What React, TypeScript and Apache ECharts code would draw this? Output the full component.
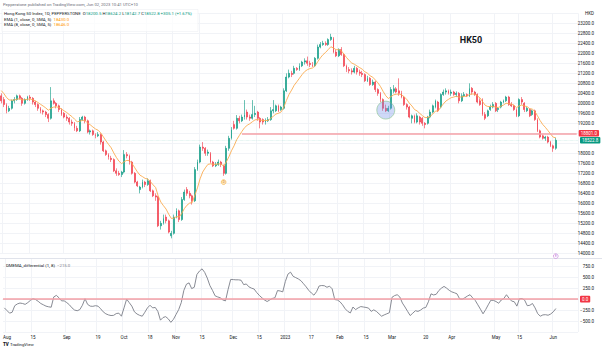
import React, { useEffect, useRef } from 'react';
import * as echarts from 'echarts';

// ---------- categories (trading days, HK holidays removed) ----------
const holidays = ['2022-10-04', '2022-12-26', '2022-12-27', '2023-01-02', '2023-04-05', '2023-04-07', '2023-04-10', '2023-05-01'];
function tradingDays(start: string, end: string): string[] {
  const out: string[] = [];
  const d = new Date(start + 'T00:00:00Z');
  const e = new Date(end + 'T00:00:00Z');
  while (d <= e) {
    const wd = d.getUTCDay();
    const s = d.toISOString().slice(0, 10);
    if (wd !== 0 && wd !== 6 && !holidays.includes(s)) out.push(s);
    d.setUTCDate(d.getUTCDate() + 1);
  }
  return out;
}
const categories = tradingDays('2022-07-29', '2023-06-14');

const timeLabels: Record<string, string> = {
  '2022-08-01': 'Aug', '2022-08-15': '15', '2022-09-01': 'Sep', '2022-09-19': '19',
  '2022-10-03': 'Oct', '2022-10-18': '18', '2022-11-01': 'Nov', '2022-11-15': '15',
  '2022-12-01': 'Dec', '2022-12-15': '15', '2023-01-03': '2023', '2023-01-17': '17',
  '2023-02-01': 'Feb', '2023-02-15': '15', '2023-03-01': 'Mar', '2023-03-20': '20',
  '2023-04-03': 'Apr', '2023-05-02': 'May', '2023-05-15': '15', '2023-06-01': 'Jun',
};

// ---------- OHLC  [open, close, low, high] ----------
const jul22 = [[20300, 20100, 20000, 20400]];
const aug22 = [
  [20150, 19950, 19850, 20250], [19950, 19700, 19600, 20000], [19700, 19800, 19650, 19900], [19800, 20100, 19750, 20150],
  [20100, 20150, 20000, 20250], [20150, 20300, 20100, 20350], [20300, 20200, 20150, 20350], [20200, 20000, 19900, 20250],
  [20000, 20150, 19950, 20200], [20150, 20250, 20100, 20300], [20250, 20200, 20100, 20330], [20200, 20050, 19950, 20250],
  [20050, 19950, 19850, 20100], [19950, 19800, 19700, 20000], [19800, 19700, 19600, 19850], [19700, 19650, 19550, 19750],
  [19650, 19550, 19450, 19700], [19550, 19400, 19250, 19600], [19400, 20100, 19350, 20650], [20100, 20000, 19950, 20200],
  [20000, 19900, 19800, 20050], [19900, 19750, 19650, 19950], [19750, 19550, 19500, 19800],
];
const sep22 = [
  [19600, 19450, 19400, 19650], [19450, 19400, 19300, 19550], [19400, 19250, 19150, 19450], [19250, 19200, 19100, 19350],
  [19200, 19000, 18900, 19250], [19000, 18900, 18850, 19100], [18900, 19350, 18850, 19450], [19350, 19450, 19300, 19500],
  [19450, 19300, 19200, 19500], [19300, 18850, 18800, 19350], [18850, 18900, 18750, 18950], [18900, 18750, 18700, 18950],
  [18750, 18700, 18600, 18800], [18700, 18750, 18650, 18850], [18750, 18450, 18350, 18800], [18450, 18100, 18050, 18500],
  [18100, 17950, 17900, 18150], [17950, 17850, 17750, 18000], [17800, 17750, 17650, 17900], [17750, 17300, 17250, 17800],
  [17300, 17200, 17100, 17400], [17200, 17150, 17100, 17300],
];
const oct22 = [
  [17150, 17250, 17050, 17300], [17250, 17950, 17200, 18130], [17950, 17900, 17800, 18050], [17900, 17650, 17550, 17950],
  [17650, 17200, 17150, 17700], [17200, 16850, 16800, 17250], [16850, 16700, 16650, 16900], [16550, 16650, 16400, 16700],
  [16650, 16850, 16600, 16950], [16850, 16750, 16650, 16900], [16750, 16900, 16700, 17000], [16900, 16500, 16450, 16950],
  [16500, 16300, 16250, 16550], [16300, 16250, 16100, 16400], [16250, 15100, 15050, 16300], [15100, 15200, 14950, 15300],
  [15200, 15400, 15150, 15550], [15450, 15300, 15200, 15550], [15300, 14850, 14800, 15350], [14700, 14800, 14600, 14900],
];
const nov22 = [
  [14800, 15450, 14750, 15550], [15450, 15700, 15400, 15800], [15700, 15350, 15250, 15750], [15350, 16150, 15300, 16250],
  [16150, 16450, 16100, 16550], [16550, 16400, 16300, 16650], [16400, 16300, 16200, 16500], [16300, 16100, 15950, 16350],
  [16100, 17350, 16050, 17450], [17350, 17650, 17300, 17750], [17650, 18250, 17600, 18350], [18250, 18200, 18100, 18450],
  [18200, 18000, 17900, 18250], [18000, 18050, 17900, 18150], [18000, 17650, 17600, 18050], [17650, 17500, 17450, 17700],
  [17500, 17550, 17450, 17650], [17550, 17650, 17500, 17750], [17650, 17550, 17450, 17700], [17500, 17200, 17100, 17550],
  [17200, 18200, 17150, 18300], [18200, 18600, 18100, 18700],
];
const dec22 = [
  [18600, 18950, 18550, 19050], [19150, 19000, 18950, 19300], [19000, 19400, 18950, 19530], [19400, 19300, 19200, 19500],
  [19300, 19450, 19250, 19550], [19450, 19550, 19350, 20130], [19650, 19450, 19350, 19750], [19450, 19400, 19300, 19550],
  [19400, 19550, 19350, 20130], [19550, 19600, 19450, 19900], [19650, 19400, 19300, 19700], [19400, 19250, 19000, 19450],
  [19350, 19250, 19150, 19400], [19250, 19300, 19150, 19400], [19300, 19350, 19250, 19450], [19350, 19700, 19300, 19850],
  [19700, 19750, 19600, 20130], [19700, 19900, 19650, 19950], [19900, 19700, 19650, 19950], [19750, 19850, 19700, 19900],
];
const jan23 = [
  [19800, 20500, 19750, 20600], [20500, 21050, 20450, 21200], [21050, 21200, 21000, 21350], [21200, 21150, 21050, 21300],
  [21200, 21400, 21150, 21500], [21400, 21350, 21300, 21450], [21350, 21500, 21300, 21600], [21500, 21650, 21450, 21700],
  [21650, 21700, 21550, 21800], [21700, 21600, 21500, 21870], [21600, 21550, 21450, 21700], [21550, 21500, 21450, 21650],
  [21500, 21800, 21450, 21850], [21800, 22250, 21750, 22350], [22250, 22350, 22200, 22450], [22350, 22400, 22300, 22500],
  [22400, 22350, 22300, 22480], [22350, 22550, 22300, 22600], [22550, 22650, 22500, 22780], [22600, 22050, 22000, 22650],
  [22050, 21900, 21850, 22150],
];
const feb23 = [
  [21900, 22150, 21850, 22200], [22150, 21950, 21900, 22250], [21950, 21500, 21450, 22000], [21500, 21350, 21250, 21550],
  [21350, 21300, 21200, 21450], [21300, 21250, 21150, 21400], [21250, 21400, 21200, 21500], [21400, 21250, 21150, 21450],
  [21250, 21200, 21100, 21350], [21200, 21150, 21050, 21300], [21150, 20900, 20850, 21200], [20900, 21000, 20850, 21100],
  [21000, 20750, 20700, 21050], [20750, 20850, 20700, 20950], [20850, 20550, 20450, 20900], [20550, 20400, 20300, 20600],
  [20400, 20150, 20050, 20450], [20150, 19800, 19700, 20200], [19800, 19700, 19650, 19950], [19700, 19800, 19650, 19900],
];
const mar23 = [
  [19800, 20550, 19750, 20650], [20480, 20580, 20400, 20730], [20580, 20450, 20400, 20650], [20500, 20400, 20300, 21000],
  [20400, 20250, 20200, 20500], [20250, 19950, 19900, 20300], [19950, 19850, 19750, 20000], [19850, 19450, 19400, 19900],
  [19400, 19500, 19200, 19550], [19500, 19250, 19200, 19550], [19250, 19500, 19200, 19600], [19450, 19250, 19150, 19500],
  [19400, 19200, 19100, 19450], [19200, 19150, 19000, 19250], [19200, 19450, 19150, 19500], [19450, 19650, 19400, 19750],
  [19650, 19900, 19600, 19950], [19850, 20100, 19800, 20150], [20050, 19700, 19650, 20100], [19850, 20350, 19800, 20400],
  [20350, 20450, 20300, 20550], [20450, 20500, 20350, 20600], [20500, 20400, 20350, 20550],
];
const apr23 = [
  [20400, 20450, 20300, 20550], [20450, 20350, 20300, 20500], [20350, 20400, 20250, 20480], [20400, 20100, 20000, 20450],
  [20100, 20300, 20050, 20400], [20300, 20350, 20250, 20450], [20350, 20300, 20250, 20400], [20300, 20600, 20250, 20800],
  [20600, 20450, 20350, 20650], [20450, 20350, 20300, 20500], [20350, 20050, 20000, 20400], [20100, 19950, 19900, 20200],
  [20150, 19550, 19500, 20200], [19550, 19400, 19330, 19650], [19500, 19700, 19450, 19750], [19750, 19850, 19700, 19950],
  [19850, 19950, 19800, 20050],
];
const may23 = [
  [20000, 19700, 19650, 20050], [19750, 19800, 19650, 19850], [19850, 20050, 19800, 20100], [20050, 20100, 20000, 20150],
  [20100, 20250, 20050, 20300], [20250, 19950, 19900, 20300], [19950, 19900, 19850, 20050], [19900, 19750, 19700, 19950],
  [19750, 19500, 19450, 19800], [19500, 20150, 19450, 20200], [20150, 20050, 19950, 20250], [20000, 19750, 19650, 20050],
  [19700, 19800, 19650, 19850], [19750, 19500, 19450, 19800], [19550, 19700, 19500, 19750], [19700, 19350, 19300, 19750],
  [19350, 18900, 18850, 19400], [18900, 18650, 18600, 18950], [18700, 18600, 18550, 18750], [18600, 18650, 18500, 18700],
  [18650, 18450, 18400, 18700], [18450, 18300, 18250, 18500],
];
const jun23 = [[18300, 18200, 18060, 18350], [18200.5, 18522.8, 18142.7, 18624.2]];

// closes before the first visible bar, used to seed the EMA
const warmupCloses = [20600, 20900, 20650, 20600, 20550];

// ---------- DMEMA_differential (1, 8) ----------
const diffJul22 = [-200];
const diffAug22 = [-260, -320, -300, -150, -110, -90, -100, -120, -80, -30, 10, -10, -50, -100, -130, -160, -175, -185, 50, 85, 30, -40, -40];
const diffSep22 = [-80, -130, -200, -250, -265, -240, -140, 10, -120, -160, -165, -150, -160, -220, -290, -335, -360, -375, -370, -330, -320, -390];
const diffOct22 = [-200, 0, -80, -160, -290, -340, -370, -390, -300, -200, -140, -200, -190, -280, -480, -420, -400, -450, -530, -460];
const diffNov22 = [-350, -240, -80, 200, 340, 370, 240, 270, 560, 640, 690, 610, 480, 310, 200, 75, 50, 30, -20, -40, 220, 450];
const diffDec22 = [445, 440, 440, 430, 330, 345, 280, 250, 230, 150, 85, 30, -20, -55, -20, 15, 30, 195, 185, 165];
const diffJan23 = [400, 570, 615, 520, 490, 460, 420, 350, 280, 200, 140, 90, 170, 300, 310, 305, 270, 295, 235, -10, -20];
const diffFeb23 = [-60, -130, -220, -280, -315, -180, -240, -200, -170, -180, -190, -205, -280, -245, -280, -335, -390, -360, -335, -310];
const diffMar23 = [40, 80, 100, 50, -90, -180, -280, -375, -320, -265, -280, -250, -205, -190, -60, 120, 95, 110, 195, 250, 290, 250, 200];
const diffApr23 = [165, 145, 120, 5, 0, 30, 70, 100, 30, -30, -130, -230, -335, -240, -130, -25, -30];
const diffMay23 = [-55, -95, -20, 15, 100, 20, -45, -60, -160, 10, 15, -25, -150, -140, -100, -200, -330, -390, -360, -355, -368, -340];
const diffJun23 = [-290, -215];

const priceTicksShown = [14000, 23200];
const priceTicksCovered = [18800, 18400]; // hidden behind the price-line boxes
const lowerTicksShown = [750, 500, 250, -250, -500];

const UP = '#089981';
const DOWN = '#f23645';
const FONT = 'Roboto, "Noto Sans", sans-serif';

function ema(src: number[], warm: number[], period: number): number[] {
  const k = 2 / (period + 1);
  let e = warm[0];
  for (let j = 1; j < warm.length; j++) e = warm[j] * k + e * (1 - k);
  return src.map((v) => {
    e = v * k + e * (1 - k);
    return Math.round(e * 10) / 10;
  });
}

export default function App() {
  const ref = useRef<HTMLDivElement>(null);
  useEffect(() => {
    document.body.style.margin = '0';
    const chart = echarts.init(ref.current!, undefined, { renderer: 'svg' });
    const candles = [...jul22, ...aug22, ...sep22, ...oct22, ...nov22, ...dec22, ...jan23, ...feb23, ...mar23, ...apr23, ...may23, ...jun23];
    const diff = [...diffJul22, ...diffAug22, ...diffSep22, ...diffOct22, ...diffNov22, ...diffDec22, ...diffJan23, ...diffFeb23, ...diffMar23, ...diffApr23, ...diffMay23, ...diffJun23];
    const closes = candles.map((c) => c[1]);
    const ema8 = ema(closes, warmupCloses, 8);
    const lastCat = categories[categories.length - 1];
    const showLabel = (i: number) => !!timeLabels[categories[i]];

    const boxLabel = (bg: string, text: string) => ({
      show: true,
      position: 'end',
      distance: 2,
      formatter: text,
      backgroundColor: bg,
      color: '#fff',
      opacity: 1,
      fontSize: 4.5,
      fontFamily: FONT,
      padding: [1, 2, 0.6, 2],
      borderRadius: 1,
    });

    const option: any = {
      animation: false,
      backgroundColor: '#ffffff',
      textStyle: { fontFamily: FONT },
      grid: [
        { left: 0, right: 24, top: 13.33, height: 240 },
        { left: 0, right: 24, top: 258, height: 74 },
      ],
      xAxis: [
        {
          type: 'category', gridIndex: 0, data: categories, boundaryGap: true,
          axisLine: { show: false }, axisTick: { show: false }, axisLabel: { show: false },
          splitLine: { show: true, interval: (i: number) => showLabel(i), lineStyle: { color: '#f1f3f7', width: 1 } },
        },
        {
          type: 'category', gridIndex: 1, data: categories, boundaryGap: true,
          axisLine: { show: true, lineStyle: { color: '#e0e3eb', width: 1 } },
          axisTick: { show: false },
          axisLabel: {
            interval: (i: number) => showLabel(i),
            formatter: (v: string) => timeLabels[v] || '',
            fontSize: 4.5, color: '#131722', margin: 2.5, fontFamily: FONT,
          },
          splitLine: { show: true, interval: (i: number) => showLabel(i), lineStyle: { color: '#f1f3f7', width: 1 } },
        },
      ],
      yAxis: [
        {
          type: 'value', gridIndex: 0, position: 'right', min: 14000, max: 23600, interval: 400,
          axisLine: { show: false }, axisTick: { show: false },
          axisLabel: {
            align: 'right', margin: 16, fontSize: 4.5, color: '#131722', fontFamily: FONT,
            formatter: (v: number) =>
              v >= priceTicksShown[0] && v <= priceTicksShown[1] && !priceTicksCovered.includes(v) ? v.toFixed(1) : '',
          },
          splitLine: { lineStyle: { color: '#f1f3f7', width: 1 } },
        },
        {
          type: 'value', gridIndex: 1, position: 'right', min: -750, max: 937.5, interval: 250,
          axisLine: { show: false }, axisTick: { show: false },
          axisLabel: {
            align: 'right', margin: 16, fontSize: 4.5, color: '#131722', fontFamily: FONT,
            showMaxLabel: false,
            formatter: (v: number) => (lowerTicksShown.includes(v) ? (v < 0 ? '\u2212' + Math.abs(v).toFixed(1) : v.toFixed(1)) : ''),
          },
          splitLine: { lineStyle: { color: '#f1f3f7', width: 1 } },
        },
      ],
      series: [
        {
          type: 'candlestick', name: 'HK50', xAxisIndex: 0, yAxisIndex: 0,
          data: candles, barWidth: '52%',
          itemStyle: { color: UP, color0: DOWN, borderColor: UP, borderColor0: DOWN, borderWidth: 0.6 },
          markLine: {
            silent: true, symbol: ['none', 'none'], animation: false,
            data: [
              [
                { coord: ['2022-12-07', 18801], lineStyle: { color: '#f5a0a7', width: 1.6, type: 'solid' }, label: boxLabel(DOWN, '18801.0') },
                { coord: [lastCat, 18801], lineStyle: { color: '#f5a0a7', width: 1.6, type: 'solid' }, label: boxLabel(DOWN, '18801.0') },
              ],
              {
                yAxis: 18522.8,
                lineStyle: { color: 'rgba(8,153,129,0.25)', width: 0.6, type: 'dotted' },
                label: boxLabel(UP, '18522.8'),
              },
            ],
          },
        },
        {
          type: 'line', name: 'EMA8', xAxisIndex: 0, yAxisIndex: 0, data: ema8,
          symbol: 'none', lineStyle: { color: '#fbab50', width: 0.9 }, z: 3,
        },
        {
          type: 'line', name: 'DMEMA', xAxisIndex: 1, yAxisIndex: 1, data: diff,
          symbol: 'none', lineStyle: { color: '#7b7e88', width: 0.9 },
          markLine: {
            silent: true, symbol: ['none', 'none'], animation: false,
            data: [{ yAxis: 0, lineStyle: { color: '#f5a0a7', width: 1.6, type: 'solid' }, label: boxLabel(DOWN, '0.0') }],
          },
        },
      ],
    };
    chart.setOption(option);

    const px = (cat: string, val: number) => chart.convertToPixel({ xAxisIndex: 0, yAxisIndex: 0 }, [cat, val]) as number[];
    const circ = px('2023-02-27', 19730);
    const mk1 = px('2022-11-28', 16850);
    const mk2 = px('2023-06-02', 14000);

    const txt = (x: number, y: number, text: string, rich: any, extra: any = {}) => ({
      type: 'text', x, y, silent: true, z: 20,
      style: { text, fontSize: 4.3, fontFamily: FONT, fill: '#131722', verticalAlign: 'middle', rich, ...extra },
    });

    chart.setOption({
      graphic: [
        { type: 'line', silent: true, shape: { x1: 0, y1: 258.5, x2: 602, y2: 258.5 }, style: { stroke: '#e0e3eb', lineWidth: 1 } },
        txt(3, 4.5, 'Pepperstone published on TradingView.com, Jun 02, 2023 10:41 UTC+10', {}, { fill: '#6a6d78', fontSize: 4.2 }),
        { type: 'rect', silent: true, z: 15, shape: { x: 2, y: 9.5, width: 196, height: 22 }, style: { fill: 'rgba(255,255,255,0.7)', stroke: '#eef0f4', lineWidth: 0.6 } },
        txt(4, 13.3,
          '{t|Hong Kong 50 Index, 1D, PEPPERSTONE}  {t|O}{v|18200.5} {t|H}{v|18624.2} {t|L}{v|18142.7} {t|C}{v|18522.8} {v|+305.1 (+1.67%)}',
          { t: { fill: '#131722', fontSize: 4.3, fontFamily: FONT }, v: { fill: UP, fontSize: 4.3, fontFamily: FONT } }),
        txt(4, 19, '{t|EMA (1, close, 0, SMA, 5)}  {o|18430.0}',
          { t: { fill: '#131722', fontSize: 4.3, fontFamily: FONT }, o: { fill: '#ff9800', fontSize: 4.3, fontFamily: FONT } }),
        txt(4, 24.5, '{t|EMA (8, close, 0, SMA, 5)}  {o|18646.0}',
          { t: { fill: '#131722', fontSize: 4.3, fontFamily: FONT }, o: { fill: '#ff9800', fontSize: 4.3, fontFamily: FONT } }),
        txt(6, 265, '{t|DMEMA_differential (1, 8)}  {g|\u2212215.0}',
          { t: { fill: '#131722', fontSize: 4.3, fontFamily: FONT }, g: { fill: '#7b7e88', fontSize: 4.3, fontFamily: FONT } }),
        txt(594, 13.3, 'HKD', {}, { align: 'right', fontSize: 4.5 }),
        txt(471, 40, 'HK50', {}, { align: 'center', fontSize: 9, fontWeight: 'bold', fill: '#131722' }),
        {
          type: 'circle', silent: true, z: 12, shape: { cx: circ[0], cy: circ[1], r: 9 },
          style: { fill: 'rgba(110,140,235,0.33)', stroke: 'rgba(120,190,120,0.65)', lineWidth: 0.8 },
        },
        {
          type: 'circle', silent: true, z: 12, shape: { cx: mk1[0], cy: mk1[1], r: 2.4 },
          style: { fill: '#fde7c2', stroke: '#f5b041', lineWidth: 0.6 },
        },
        {
          type: 'circle', silent: true, z: 12, shape: { cx: mk2[0], cy: mk2[1] + 2.8, r: 2.4 },
          style: { fill: '#ffffff', stroke: '#c27ad9', lineWidth: 0.6 },
        },
        txt(mk2[0], mk2[1] + 2.8, 'E', {}, { align: 'center', fontSize: 3, fill: '#b05fcf' }),
        txt(mk1[0], mk1[1], 'D', {}, { align: 'center', fontSize: 3, fill: '#d68910' }),
        txt(3, 344, 'TV', {}, { fontSize: 4.5, fontWeight: 900, fill: '#131722' }),
        txt(10, 344, 'TradingView', {}, { fontSize: 4.3, fill: '#131722' }),
      ],
    });

    return () => chart.dispose();
  }, []);
  return <div ref={ref} style={{ position: 'fixed', left: 0, top: 0, width: 602, height: 351, background: '#fff' }} />;
}
